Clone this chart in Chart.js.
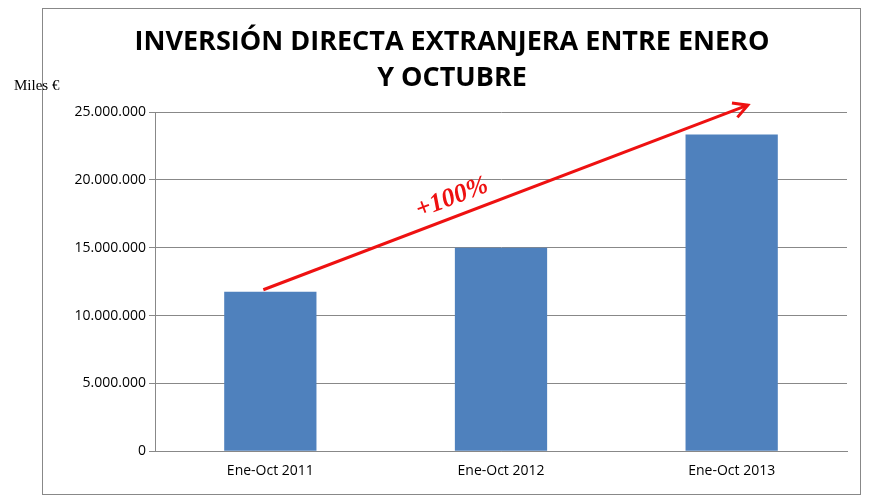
<!DOCTYPE html>
<html><head><meta charset="utf-8">
<script src="https://cdn.jsdelivr.net/npm/chart.js@4/dist/chart.umd.min.js"></script>
<style>html,body{margin:0;padding:0;background:#fff}#w{width:869px;height:500px}</style>
</head><body><div id="w"><canvas id="c"></canvas></div>
<script>
const categories = ["Ene-Oct 2011", "Ene-Oct 2012", "Ene-Oct 2013"];
const values = [11750000, 15000000, 23350000];
const yTicks = [0, 5000000, 10000000, 15000000, 20000000, 25000000];
const arrowFrom = [0, 11900000];
const arrowTo = [2.07, 25500000];
const titleLines = ["INVERSIÓN DIRECTA EXTRANJERA ENTRE ENERO", "Y OCTUBRE"];
const unitLabel = "Miles €";
const arrowLabel = "+100%";

const fmt = v => v.toLocaleString('de-DE');

const deco = {
  id: 'deco',
  beforeDraw(ch) {
    const c = ch.ctx; c.save();
    c.strokeStyle = '#888'; c.lineWidth = 1;
    c.strokeRect(42.5, 8.5, 818, 486);
    c.restore();
  },
  afterDraw(ch) {
    const c = ch.ctx, x = ch.scales.x, y = ch.scales.y;
    c.save();
    c.fillStyle = '#000'; c.textAlign = 'center'; c.textBaseline = 'middle';
    c.font = 'bold 27px "Open Sans", sans-serif';
    c.fillText(titleLines[0], 452, 42);
    c.fillText(titleLines[1], 452, 78);
    c.font = '15px "Liberation Serif", serif'; c.textAlign = 'left';
    c.fillText(unitLabel, 14, 86);
    const sx = x.getPixelForValue(arrowFrom[0]) - 7, sy = y.getPixelForValue(arrowFrom[1]);
    const step = x.getPixelForValue(1) - x.getPixelForValue(0);
    const ex = x.getPixelForValue(0) + arrowTo[0] * step, ey = y.getPixelForValue(arrowTo[1]);
    c.strokeStyle = '#ee1111'; c.fillStyle = '#ee1111'; c.lineWidth = 3;
    c.beginPath(); c.moveTo(sx, sy); c.lineTo(ex, ey); c.stroke();
    const a = Math.atan2(ey - sy, ex - sx);
    c.beginPath(); c.lineWidth = 3;
    c.moveTo(ex - 16*Math.cos(a - 0.5), ey - 16*Math.sin(a - 0.5));
    c.lineTo(ex, ey);
    c.lineTo(ex - 16*Math.cos(a + 0.5), ey - 16*Math.sin(a + 0.5));
    c.stroke();
    c.translate(452, 198); c.rotate(a);
    c.font = 'italic bold 26px "Liberation Serif", serif'; c.textAlign = 'center';
    c.fillText(arrowLabel, 0, 0);
    c.restore();
  }
};

new Chart(document.getElementById('c'), {
  type: 'bar',
  data: { labels: categories, datasets: [{ data: values, backgroundColor: '#4f81bd', barPercentage: 0.4, categoryPercentage: 1 }] },
  options: {
    responsive: true, maintainAspectRatio: false, animation: false,
    layout: { padding: { left: 50, right: 22, top: 112, bottom: 18 } },
    plugins: { legend: { display: false }, tooltip: { enabled: false } },
    scales: {
      x: { grid: { display: false, drawTicks: true }, border: { color: '#888' },
           ticks: { color: '#000', font: { family: 'Open Sans', size: 14 } } },
      y: { min: 0, max: 25000000, afterFit(s) { s.width = 105; },
           afterBuildTicks(s) { s.ticks = yTicks.map(v => ({ value: v })); },
           grid: { color: '#888', tickLength: 6 }, border: { color: '#888' },
           ticks: { color: '#000', font: { family: 'Open Sans', size: 14 }, callback: v => fmt(v) } }
    }
  },
  plugins: [deco]
});
</script></body></html>
